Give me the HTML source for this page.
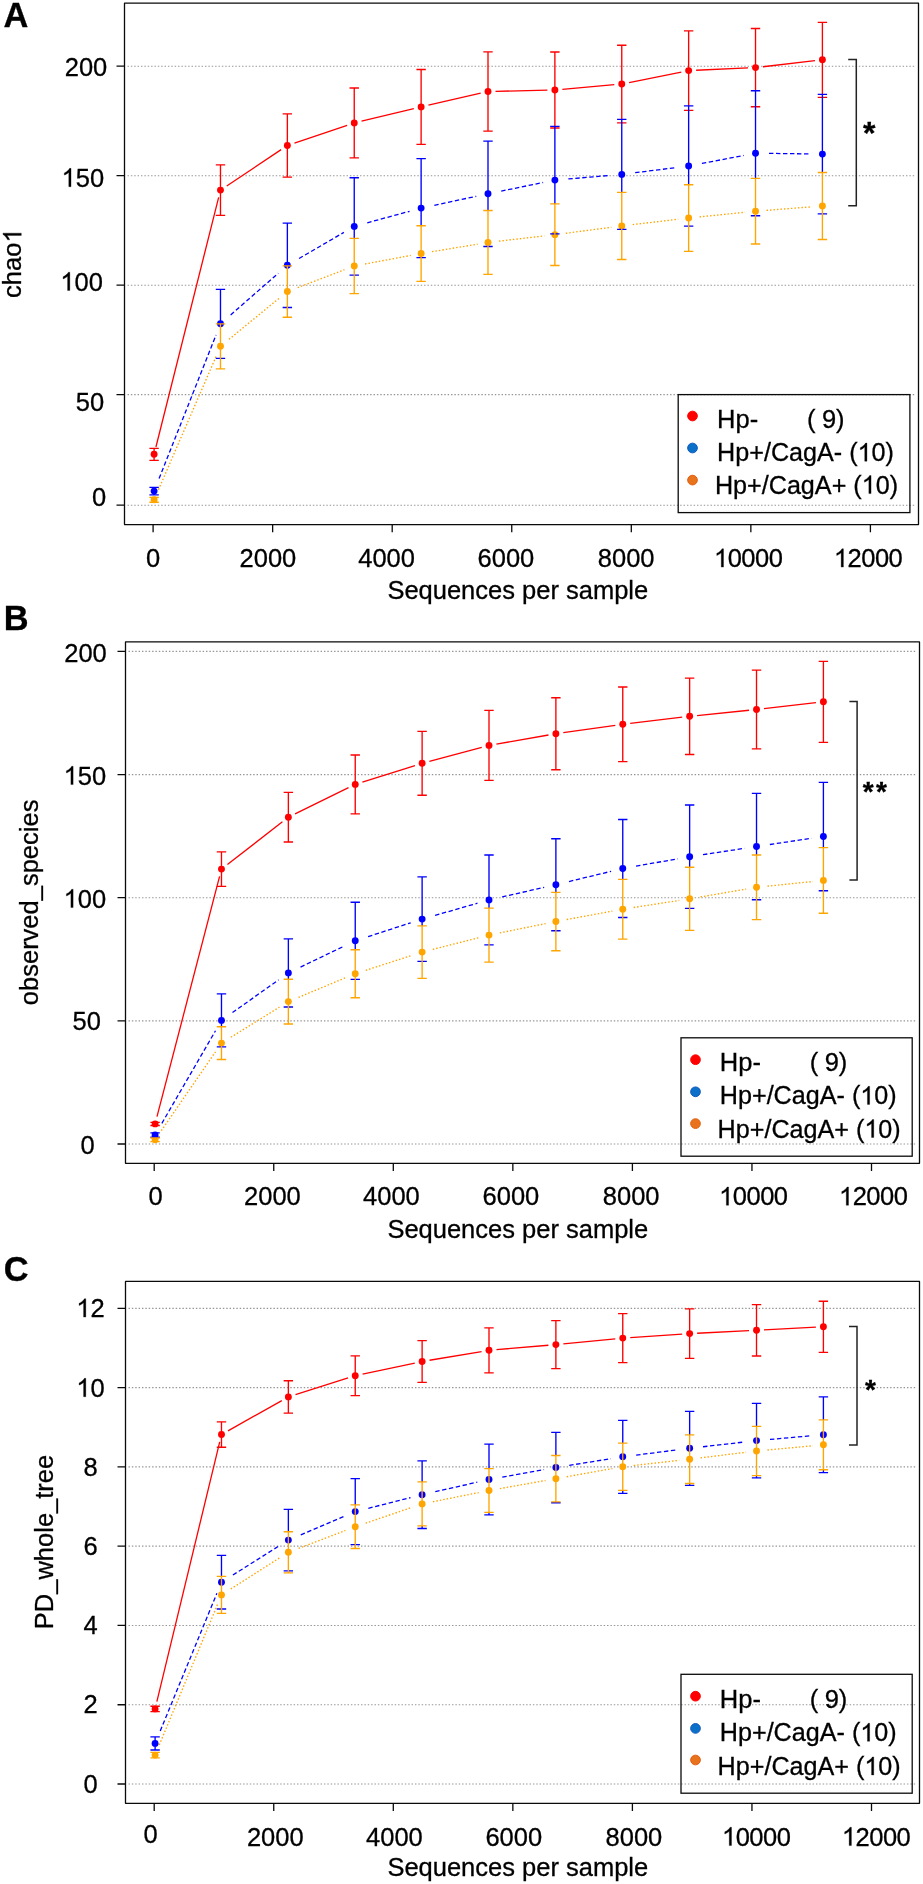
<!DOCTYPE html>
<html lang="en"><head><meta charset="utf-8"><title>Rarefaction curves</title>
<style>
html,body{margin:0;padding:0;background:#fff;}
svg{display:block;will-change:transform;}
text{font-family:"Liberation Sans",sans-serif;font-size:25.5px;fill:#000;stroke:#000;stroke-width:0.3px;}
</style></head><body>
<svg width="923" height="1884" viewBox="0 0 923 1884">
<rect width="923" height="1884" fill="#fff"/>
<path d="M127.5 66.2H915.9" stroke="#969696" stroke-width="1.15" stroke-dasharray="1.45 1.92" fill="none"/>
<path d="M127.5 175.7H915.9" stroke="#969696" stroke-width="1.15" stroke-dasharray="1.45 1.92" fill="none"/>
<path d="M127.5 285.2H915.9" stroke="#969696" stroke-width="1.15" stroke-dasharray="1.45 1.92" fill="none"/>
<path d="M127.5 394.6H915.9" stroke="#969696" stroke-width="1.15" stroke-dasharray="1.45 1.92" fill="none"/>
<path d="M127.5 505.2H915.9" stroke="#969696" stroke-width="1.15" stroke-dasharray="1.45 1.92" fill="none"/>
<path d="M155.93 447.03L218.65 197.37 M226.72 185.94L281.12 149.66 M294.47 143.1L347.13 125.3 M361.53 121.15L413.83 108.65 M428.43 105.22L480.69 93.18 M495.5 91.33L547.38 90.17 M562.35 89.33L614.29 84.67 M629.11 82.53L681.29 72.07 M696.13 70.26L748.03 67.94 M762.97 66.73L814.95 60.67" stroke="#ff0000" stroke-width="1.3" fill="none"/>
<path d="M159.08 478.55L216.05 334.95 M230.64 314.91L278.33 273.2 M299.03 258.51L343.87 232.43 M367.26 222.84L409.55 211.27 M434.32 205.28L476.27 196.31 M501.23 191.09L543.12 182.51 M568.33 178.95L609.8 175.42 M635.15 172.72L676.73 167.5 M701.9 163.46L743.73 155.46 M769.02 153.38L810.4 153.94" stroke="#0000ff" stroke-width="1.3" fill="none" stroke-dasharray="4.4 2.6"/>
<path d="M158.47 489.7L216.31 355.94 M228.99 339.33L279.24 298.15 M297.64 287.58L344.43 269.74 M365.05 263.98L410.8 255.43 M431.97 251.7L477.64 244.12 M498.93 241.14L544.45 235.9 M565.79 233.27L611.35 227.27 M632.68 224.61L678.21 219.23 M699.58 216.89L745.07 212.26 M766.49 210.35L811.93 206.81" stroke="#ffa500" stroke-width="1.35" fill="none" stroke-dasharray="1.5 2"/>
<circle cx="154.1" cy="454.3" r="3.45" fill="#ff0000"/>
<circle cx="220.48" cy="190.1" r="3.45" fill="#ff0000"/>
<circle cx="287.36" cy="145.5" r="3.45" fill="#ff0000"/>
<circle cx="354.24" cy="122.9" r="3.45" fill="#ff0000"/>
<circle cx="421.12" cy="106.9" r="3.45" fill="#ff0000"/>
<circle cx="488" cy="91.5" r="3.45" fill="#ff0000"/>
<circle cx="554.88" cy="90" r="3.45" fill="#ff0000"/>
<circle cx="621.76" cy="84" r="3.45" fill="#ff0000"/>
<circle cx="688.64" cy="70.6" r="3.45" fill="#ff0000"/>
<circle cx="755.52" cy="67.6" r="3.45" fill="#ff0000"/>
<circle cx="822.4" cy="59.8" r="3.45" fill="#ff0000"/>
<circle cx="154.1" cy="499.8" r="3.45" fill="#ffa500"/>
<circle cx="220.48" cy="346.3" r="3.45" fill="#ffa500"/>
<circle cx="287.36" cy="291.5" r="3.45" fill="#ffa500"/>
<circle cx="354.24" cy="266" r="3.45" fill="#ffa500"/>
<circle cx="421.12" cy="253.5" r="3.45" fill="#ffa500"/>
<circle cx="488" cy="242.4" r="3.45" fill="#ffa500"/>
<circle cx="554.88" cy="234.7" r="3.45" fill="#ffa500"/>
<circle cx="621.76" cy="225.9" r="3.45" fill="#ffa500"/>
<circle cx="688.64" cy="218" r="3.45" fill="#ffa500"/>
<circle cx="755.52" cy="211.2" r="3.45" fill="#ffa500"/>
<circle cx="822.4" cy="206" r="3.45" fill="#ffa500"/>
<circle cx="154.1" cy="491.1" r="3.45" fill="#0000ff"/>
<circle cx="220.48" cy="323.8" r="3.45" fill="#0000ff"/>
<circle cx="287.36" cy="265.3" r="3.45" fill="#0000ff"/>
<circle cx="354.24" cy="226.4" r="3.45" fill="#0000ff"/>
<circle cx="421.12" cy="208.1" r="3.45" fill="#0000ff"/>
<circle cx="488" cy="193.8" r="3.45" fill="#0000ff"/>
<circle cx="554.88" cy="180.1" r="3.45" fill="#0000ff"/>
<circle cx="621.76" cy="174.4" r="3.45" fill="#0000ff"/>
<circle cx="688.64" cy="166" r="3.45" fill="#0000ff"/>
<circle cx="755.52" cy="153.2" r="3.45" fill="#0000ff"/>
<circle cx="822.4" cy="154.1" r="3.45" fill="#0000ff"/>
<path d="M154.1 448.3V460.3 M149.4 448.3H158.8 M149.4 460.3H158.8 M220.48 164.8V215.4 M215.78 164.8H225.18 M215.78 215.4H225.18 M287.36 113.9V177.1 M282.66 113.9H292.06 M282.66 177.1H292.06 M354.24 88V157.8 M349.54 88H358.94 M349.54 157.8H358.94 M421.12 69.5V144.3 M416.42 69.5H425.82 M416.42 144.3H425.82 M488 51.9V131.1 M483.3 51.9H492.7 M483.3 131.1H492.7 M554.88 52V126.3 M550.18 52H559.58 M550.18 128H559.58 M621.76 45.2V119.4 M617.06 45.2H626.46 M617.06 122.8H626.46 M688.64 30.8V105.9 M683.94 30.8H693.34 M683.94 110.4H693.34 M755.52 28.5V90.7 M750.82 28.5H760.22 M750.82 106.7H760.22 M822.4 22.3V94.4 M817.7 22.3H827.1 M817.7 97.3H827.1" stroke="#ff0000" stroke-width="1.35" fill="none"/>
<path d="M154.1 487.3V494.9 M149.4 487.3H158.8 M149.4 494.9H158.8 M220.48 289.3V323.8 M215.78 289.3H225.18 M215.78 358.3H225.18 M287.36 223.1V265.8 M282.66 223.1H292.06 M282.66 307.5H292.06 M354.24 177.7V238.4 M349.54 177.7H358.94 M349.54 275.1H358.94 M421.12 158.6V225.7 M416.42 158.6H425.82 M416.42 257.6H425.82 M488 141.1V210.5 M483.3 141.1H492.7 M483.3 246.5H492.7 M554.88 126.3V203.9 M550.18 126.3H559.58 M550.18 233.9H559.58 M621.76 119.4V192.3 M617.06 119.4H626.46 M617.06 229.4H626.46 M688.64 105.9V184.7 M683.94 105.9H693.34 M683.94 226.1H693.34 M755.52 90.7V178.4 M750.82 90.7H760.22 M750.82 215.7H760.22 M822.4 94.4V172.5 M817.7 94.4H827.1 M817.7 213.8H827.1" stroke="#0000ff" stroke-width="1.35" fill="none"/>
<path d="M154.1 497.4V502.2 M149.4 497.4H158.8 M149.4 502.2H158.8 M220.48 323.8V368.8 M215.78 323.8H225.18 M215.78 368.8H225.18 M287.36 265.8V317.2 M282.66 265.8H292.06 M282.66 317.2H292.06 M354.24 238.4V293.6 M349.54 238.4H358.94 M349.54 293.6H358.94 M421.12 225.7V281.3 M416.42 225.7H425.82 M416.42 281.3H425.82 M488 210.5V274.3 M483.3 210.5H492.7 M483.3 274.3H492.7 M554.88 203.9V265.5 M550.18 203.9H559.58 M550.18 265.5H559.58 M621.76 192.3V259.5 M617.06 192.3H626.46 M617.06 259.5H626.46 M688.64 184.7V251.3 M683.94 184.7H693.34 M683.94 251.3H693.34 M755.52 178.4V244 M750.82 178.4H760.22 M750.82 244H760.22 M822.4 172.5V239.5 M817.7 172.5H827.1 M817.7 239.5H827.1" stroke="#ffa500" stroke-width="1.35" fill="none"/>
<rect x="124.5" y="3.15" width="794" height="521.4" fill="none" stroke="#0a0a0a" stroke-width="1.3" stroke-linejoin="round"/>
<path d="M116.5 66.2H124.5 M116.5 175.7H124.5 M116.5 285.2H124.5 M116.5 394.6H124.5 M116.5 505.2H124.5 M153.1 524.55V532.35 M272.65 524.55V532.35 M392.2 524.55V532.35 M511.75 524.55V532.35 M631.3 524.55V532.35 M750.85 524.55V532.35 M870.4 524.55V532.35" stroke="#0a0a0a" stroke-width="1.3" fill="none"/>
<text x="86" y="75.6" text-anchor="middle">200</text>
<g transform="translate(83.4 186.7)">
<text x="-7.69 6.49" y="0">50</text>
<path transform="translate(-21.87 0) scale(0.012451 -0.012451)" d="M763,0L583,0L583,1147Q518,1085 412.5,1023Q307,961 223,930L223,1104Q374,1175 487,1276Q600,1377 647,1472L763,1472Z" fill="#000" stroke="#000" stroke-width="24.09"/>
</g>
<g transform="translate(82.2 290.5)">
<text x="-7.69 6.49" y="0">00</text>
<path transform="translate(-21.87 0) scale(0.012451 -0.012451)" d="M763,0L583,0L583,1147Q518,1085 412.5,1023Q307,961 223,930L223,1104Q374,1175 487,1276Q600,1377 647,1472L763,1472Z" fill="#000" stroke="#000" stroke-width="24.09"/>
</g>
<text x="90" y="411.3" text-anchor="middle">50</text>
<text x="99" y="506.2" text-anchor="middle">0</text>
<text x="153.1" y="567.1" text-anchor="middle">0</text>
<text x="267.9" y="567.1" text-anchor="middle">2000</text>
<text x="386.6" y="567.1" text-anchor="middle">4000</text>
<text x="505.9" y="567.1" text-anchor="middle">6000</text>
<text x="626.2" y="567.1" text-anchor="middle">8000</text>
<g transform="translate(749.05 567.1)">
<text x="-21.37 -7.69 5.99 19.67" y="0">0000</text>
<path transform="translate(-35.05 0) scale(0.012451 -0.012451)" d="M763,0L583,0L583,1147Q518,1085 412.5,1023Q307,961 223,930L223,1104Q374,1175 487,1276Q600,1377 647,1472L763,1472Z" fill="#000" stroke="#000" stroke-width="24.09"/>
</g>
<g transform="translate(868.95 567.1)">
<text x="-21.37 -7.69 5.99 19.67" y="0">2000</text>
<path transform="translate(-35.05 0) scale(0.012451 -0.012451)" d="M763,0L583,0L583,1147Q518,1085 412.5,1023Q307,961 223,930L223,1104Q374,1175 487,1276Q600,1377 647,1472L763,1472Z" fill="#000" stroke="#000" stroke-width="24.09"/>
</g>
<text x="517.8" y="599" text-anchor="middle">Sequences per sample</text>
<g transform="translate(21.3 263.2) rotate(-90)">
<text x="-34.74 -21.99 -7.81 6.38" y="0">chao</text>
<path transform="translate(20.56 0) scale(0.012451 -0.012451)" d="M763,0L583,0L583,1147Q518,1085 412.5,1023Q307,961 223,930L223,1104Q374,1175 487,1276Q600,1377 647,1472L763,1472Z" fill="#000" stroke="#000" stroke-width="24.09"/>
</g>
<text x="3.5" y="26.8" style="font-size:34.4px;font-weight:bold">A</text>
<rect x="678.2" y="394.6" width="231.7" height="118" fill="none" stroke="#0a0a0a" stroke-width="1.3"/>
<circle cx="692.5" cy="416" r="4.85" fill="#ff0000" stroke="#ff0505" stroke-width="1"/>
<circle cx="692.5" cy="448" r="4.85" fill="#0b70c8" stroke="#1259c0" stroke-width="1"/>
<circle cx="692.5" cy="480.1" r="4.85" fill="#e8731c" stroke="#e25f10" stroke-width="1"/>
<g style="font-size:25.15px">
<text x="717.1" y="427.5">Hp-</text>
<text x="806.9" y="427.5" style="letter-spacing:-0.2px">( 9)</text>
<g transform="translate(717.1 461.2)">
<text x="0 18.16 32.15 46.84 53.82 71.99 85.97 99.96 116.74 132.1 154.46 168.45" y="0" style="font-size:25.15px">Hp+/CagA-(0)</text>
<path transform="translate(140.47 0) scale(0.012280 -0.012280)" d="M763,0L583,0L583,1147Q518,1085 412.5,1023Q307,961 223,930L223,1104Q374,1175 487,1276Q600,1377 647,1472L763,1472Z" fill="#000" stroke="#000" stroke-width="24.43"/>
</g>
<g transform="translate(714.9 493.6)">
<text x="0 18.16 32.15 46.84 53.82 71.99 85.97 99.96 116.74 138.41 160.77 174.76" y="0" style="font-size:25.15px">Hp+/CagA+(0)</text>
<path transform="translate(146.79 0) scale(0.012280 -0.012280)" d="M763,0L583,0L583,1147Q518,1085 412.5,1023Q307,961 223,930L223,1104Q374,1175 487,1276Q600,1377 647,1472L763,1472Z" fill="#000" stroke="#000" stroke-width="24.43"/>
</g>
</g>
<path d="M848.2 59.4H856.3V205.8H848.2" stroke="#232323" stroke-width="1.5" fill="none"/>
<text x="869.15" y="144.15" style="font-size:32px;font-weight:bold" text-anchor="middle">*</text>
<path d="M128.5 651.4H916.9" stroke="#969696" stroke-width="1.15" stroke-dasharray="1.45 1.92" fill="none"/>
<path d="M128.5 774.55H916.9" stroke="#969696" stroke-width="1.15" stroke-dasharray="1.45 1.92" fill="none"/>
<path d="M128.5 897.7H916.9" stroke="#969696" stroke-width="1.15" stroke-dasharray="1.45 1.92" fill="none"/>
<path d="M128.5 1020.85H916.9" stroke="#969696" stroke-width="1.15" stroke-dasharray="1.45 1.92" fill="none"/>
<path d="M128.5 1144H916.9" stroke="#969696" stroke-width="1.15" stroke-dasharray="1.45 1.92" fill="none"/>
<path d="M156.99 1116.64L219.59 876.36 M227.41 864.5L282.43 821.8 M295.09 813.9L348.51 787.7 M362.39 782.14L414.97 765.56 M429.36 761.36L481.76 747.34 M496.39 744.11L548.49 734.99 M563.31 732.66L615.33 725.34 M630.21 723.41L682.19 717.19 M697.1 715.54L749.06 710.26 M763.97 708.64L815.95 702.66" stroke="#ff0000" stroke-width="1.3" fill="none"/>
<path d="M161.87 1123.32L215.47 1030.78 M232.49 1012.58L278.58 979.85 M300.53 967.06L344.42 945.99 M368.08 936.63L410.71 922.8 M435.1 915.37L477.47 903.21 M502.16 896.91L544.18 887.36 M569 881.52L611.1 871.33 M636.05 866.15L677.82 858.79 M702.99 854.66L744.66 848.31 M769.87 844.5L811.53 838.27" stroke="#0000ff" stroke-width="1.3" fill="none" stroke-dasharray="4.4 2.6"/>
<path d="M161.33 1130.73L215.54 1051.76 M230.83 1037.3L279.44 1007.14 M298.51 997.36L345.55 977.74 M365.71 970.32L412.13 955.33 M432.78 949.39L478.82 937.69 M499.78 932.91L545.59 923.59 M566.7 919.51L612.43 911.1 M633.63 907.51L679.26 900.41 M700.48 896.94L746.17 889.08 M767.46 886.17L812.96 881.48" stroke="#ffa500" stroke-width="1.35" fill="none" stroke-dasharray="1.5 2"/>
<circle cx="155.1" cy="1123.9" r="3.45" fill="#ff0000"/>
<circle cx="221.48" cy="869.1" r="3.45" fill="#ff0000"/>
<circle cx="288.36" cy="817.2" r="3.45" fill="#ff0000"/>
<circle cx="355.24" cy="784.4" r="3.45" fill="#ff0000"/>
<circle cx="422.12" cy="763.3" r="3.45" fill="#ff0000"/>
<circle cx="489" cy="745.4" r="3.45" fill="#ff0000"/>
<circle cx="555.88" cy="733.7" r="3.45" fill="#ff0000"/>
<circle cx="622.76" cy="724.3" r="3.45" fill="#ff0000"/>
<circle cx="689.64" cy="716.3" r="3.45" fill="#ff0000"/>
<circle cx="756.52" cy="709.5" r="3.45" fill="#ff0000"/>
<circle cx="823.4" cy="701.8" r="3.45" fill="#ff0000"/>
<circle cx="155.1" cy="1139.8" r="3.45" fill="#ffa500"/>
<circle cx="221.48" cy="1043.1" r="3.45" fill="#ffa500"/>
<circle cx="288.36" cy="1001.6" r="3.45" fill="#ffa500"/>
<circle cx="355.24" cy="973.7" r="3.45" fill="#ffa500"/>
<circle cx="422.12" cy="952.1" r="3.45" fill="#ffa500"/>
<circle cx="489" cy="935.1" r="3.45" fill="#ffa500"/>
<circle cx="555.88" cy="921.5" r="3.45" fill="#ffa500"/>
<circle cx="622.76" cy="909.2" r="3.45" fill="#ffa500"/>
<circle cx="689.64" cy="898.8" r="3.45" fill="#ffa500"/>
<circle cx="756.52" cy="887.3" r="3.45" fill="#ffa500"/>
<circle cx="823.4" cy="880.4" r="3.45" fill="#ffa500"/>
<circle cx="155.1" cy="1135" r="3.45" fill="#0000ff"/>
<circle cx="221.48" cy="1020.4" r="3.45" fill="#0000ff"/>
<circle cx="288.36" cy="972.9" r="3.45" fill="#0000ff"/>
<circle cx="355.24" cy="940.8" r="3.45" fill="#0000ff"/>
<circle cx="422.12" cy="919.1" r="3.45" fill="#0000ff"/>
<circle cx="489" cy="899.9" r="3.45" fill="#0000ff"/>
<circle cx="555.88" cy="884.7" r="3.45" fill="#0000ff"/>
<circle cx="622.76" cy="868.5" r="3.45" fill="#0000ff"/>
<circle cx="689.64" cy="856.7" r="3.45" fill="#0000ff"/>
<circle cx="756.52" cy="846.5" r="3.45" fill="#0000ff"/>
<circle cx="823.4" cy="836.5" r="3.45" fill="#0000ff"/>
<path d="M155.1 1122.3V1125.5 M150.4 1122.3H159.8 M150.4 1125.5H159.8 M221.48 851.9V886.3 M216.78 851.9H226.18 M216.78 886.3H226.18 M288.36 792.4V842 M283.66 792.4H293.06 M283.66 842H293.06 M355.24 755V813.8 M350.54 755H359.94 M350.54 813.8H359.94 M422.12 731.4V795.2 M417.42 731.4H426.82 M417.42 795.2H426.82 M489 710.4V780.4 M484.3 710.4H493.7 M484.3 780.4H493.7 M555.88 697.7V769.7 M551.18 697.7H560.58 M551.18 769.7H560.58 M622.76 687V761.6 M618.06 687H627.46 M618.06 761.6H627.46 M689.64 678.1V754.5 M684.94 678.1H694.34 M684.94 754.5H694.34 M756.52 670.1V748.9 M751.82 670.1H761.22 M751.82 748.9H761.22 M823.4 661.3V742.3 M818.7 661.3H828.1 M818.7 742.3H828.1" stroke="#ff0000" stroke-width="1.35" fill="none"/>
<path d="M155.1 1132.8V1137.2 M150.4 1132.8H159.8 M150.4 1137.2H159.8 M221.48 993.9V1026.7 M216.78 993.9H226.18 M216.78 1046.9H226.18 M288.36 938.8V979.2 M283.66 938.8H293.06 M283.66 1007H293.06 M355.24 902.2V949.7 M350.54 902.2H359.94 M350.54 979.4H359.94 M422.12 876.9V925.9 M417.42 876.9H426.82 M417.42 961.3H426.82 M489 855V908.1 M484.3 855H493.7 M484.3 944.8H493.7 M555.88 838.7V892.3 M551.18 838.7H560.58 M551.18 930.7H560.58 M622.76 819.5V879.3 M618.06 819.5H627.46 M618.06 917.5H627.46 M689.64 805V867.2 M684.94 805H694.34 M684.94 908.4H694.34 M756.52 793.3V855 M751.82 793.3H761.22 M751.82 899.7H761.22 M823.4 782.3V847.6 M818.7 782.3H828.1 M818.7 890.7H828.1" stroke="#0000ff" stroke-width="1.35" fill="none"/>
<path d="M155.1 1138V1141.6 M150.4 1138H159.8 M150.4 1141.6H159.8 M221.48 1026.7V1059.5 M216.78 1026.7H226.18 M216.78 1059.5H226.18 M288.36 979.2V1024 M283.66 979.2H293.06 M283.66 1024H293.06 M355.24 949.7V997.7 M350.54 949.7H359.94 M350.54 997.7H359.94 M422.12 925.9V978.3 M417.42 925.9H426.82 M417.42 978.3H426.82 M489 908.1V962.1 M484.3 908.1H493.7 M484.3 962.1H493.7 M555.88 892.3V950.7 M551.18 892.3H560.58 M551.18 950.7H560.58 M622.76 879.3V939.1 M618.06 879.3H627.46 M618.06 939.1H627.46 M689.64 867.2V930.4 M684.94 867.2H694.34 M684.94 930.4H694.34 M756.52 855V919.6 M751.82 855H761.22 M751.82 919.6H761.22 M823.4 847.6V913.2 M818.7 847.6H828.1 M818.7 913.2H828.1" stroke="#ffa500" stroke-width="1.35" fill="none"/>
<rect x="125.5" y="641.95" width="794" height="521.35" fill="none" stroke="#0a0a0a" stroke-width="1.3" stroke-linejoin="round"/>
<path d="M117.5 651.4H125.5 M117.5 774.55H125.5 M117.5 897.7H125.5 M117.5 1020.85H125.5 M117.5 1144H125.5 M154.2 1163.3V1171.1 M273.75 1163.3V1171.1 M393.3 1163.3V1171.1 M512.85 1163.3V1171.1 M632.4 1163.3V1171.1 M751.95 1163.3V1171.1 M871.5 1163.3V1171.1" stroke="#0a0a0a" stroke-width="1.3" fill="none"/>
<text x="85.5" y="662" text-anchor="middle">200</text>
<g transform="translate(85.5 784.6)">
<text x="-7.69 6.49" y="0">50</text>
<path transform="translate(-21.87 0) scale(0.012451 -0.012451)" d="M763,0L583,0L583,1147Q518,1085 412.5,1023Q307,961 223,930L223,1104Q374,1175 487,1276Q600,1377 647,1472L763,1472Z" fill="#000" stroke="#000" stroke-width="24.09"/>
</g>
<g transform="translate(85.5 907.6)">
<text x="-7.69 6.49" y="0">00</text>
<path transform="translate(-21.87 0) scale(0.012451 -0.012451)" d="M763,0L583,0L583,1147Q518,1085 412.5,1023Q307,961 223,930L223,1104Q374,1175 487,1276Q600,1377 647,1472L763,1472Z" fill="#000" stroke="#000" stroke-width="24.09"/>
</g>
<text x="86.7" y="1030.2" text-anchor="middle">50</text>
<text x="87.5" y="1153.5" text-anchor="middle">0</text>
<text x="155.7" y="1205.3" text-anchor="middle">0</text>
<text x="272.4" y="1205.3" text-anchor="middle">2000</text>
<text x="391.4" y="1205.3" text-anchor="middle">4000</text>
<text x="510.9" y="1205.3" text-anchor="middle">6000</text>
<text x="631.2" y="1205.3" text-anchor="middle">8000</text>
<g transform="translate(754.15 1205.3)">
<text x="-21.37 -7.69 5.99 19.67" y="0">0000</text>
<path transform="translate(-35.05 0) scale(0.012451 -0.012451)" d="M763,0L583,0L583,1147Q518,1085 412.5,1023Q307,961 223,930L223,1104Q374,1175 487,1276Q600,1377 647,1472L763,1472Z" fill="#000" stroke="#000" stroke-width="24.09"/>
</g>
<g transform="translate(874.05 1205.3)">
<text x="-21.37 -7.69 5.99 19.67" y="0">2000</text>
<path transform="translate(-35.05 0) scale(0.012451 -0.012451)" d="M763,0L583,0L583,1147Q518,1085 412.5,1023Q307,961 223,930L223,1104Q374,1175 487,1276Q600,1377 647,1472L763,1472Z" fill="#000" stroke="#000" stroke-width="24.09"/>
</g>
<text x="517.8" y="1237.5" text-anchor="middle">Sequences per sample</text>
<text transform="translate(38.3 902.4) rotate(-90)" text-anchor="middle">observed_species</text>
<text x="3.7" y="630.3" style="font-size:34.4px;font-weight:bold">B</text>
<rect x="681" y="1037.8" width="231.2" height="118.4" fill="none" stroke="#0a0a0a" stroke-width="1.3"/>
<circle cx="695.5" cy="1059.7" r="4.85" fill="#ff0000" stroke="#ff0505" stroke-width="1"/>
<circle cx="695.5" cy="1091.8" r="4.85" fill="#0b70c8" stroke="#1259c0" stroke-width="1"/>
<circle cx="695.5" cy="1123.6" r="4.85" fill="#e8731c" stroke="#e25f10" stroke-width="1"/>
<g style="font-size:25.15px">
<text x="719.8" y="1071.3">Hp-</text>
<text x="809.7" y="1071.3" style="letter-spacing:-0.2px">( 9)</text>
<g transform="translate(719.8 1104.4)">
<text x="0 18.16 32.15 46.84 53.82 71.99 85.97 99.96 116.74 132.1 154.46 168.45" y="0" style="font-size:25.15px">Hp+/CagA-(0)</text>
<path transform="translate(140.47 0) scale(0.012280 -0.012280)" d="M763,0L583,0L583,1147Q518,1085 412.5,1023Q307,961 223,930L223,1104Q374,1175 487,1276Q600,1377 647,1472L763,1472Z" fill="#000" stroke="#000" stroke-width="24.43"/>
</g>
<g transform="translate(717.6 1137.5)">
<text x="0 18.16 32.15 46.84 53.82 71.99 85.97 99.96 116.74 138.41 160.77 174.76" y="0" style="font-size:25.15px">Hp+/CagA+(0)</text>
<path transform="translate(146.79 0) scale(0.012280 -0.012280)" d="M763,0L583,0L583,1147Q518,1085 412.5,1023Q307,961 223,930L223,1104Q374,1175 487,1276Q600,1377 647,1472L763,1472Z" fill="#000" stroke="#000" stroke-width="24.43"/>
</g>
</g>
<path d="M849.4 701.5H857.1V879.9H849.4" stroke="#232323" stroke-width="1.5" fill="none"/>
<text x="868.25" y="800.75" style="font-size:28px;font-weight:bold" text-anchor="middle">*</text>
<text x="881.55" y="800.75" style="font-size:28px;font-weight:bold" text-anchor="middle">*</text>
<path d="M128.5 1308.35H916.9" stroke="#969696" stroke-width="1.15" stroke-dasharray="1.45 1.92" fill="none"/>
<path d="M128.5 1387.63H916.9" stroke="#969696" stroke-width="1.15" stroke-dasharray="1.45 1.92" fill="none"/>
<path d="M128.5 1466.9H916.9" stroke="#969696" stroke-width="1.15" stroke-dasharray="1.45 1.92" fill="none"/>
<path d="M128.5 1546.18H916.9" stroke="#969696" stroke-width="1.15" stroke-dasharray="1.45 1.92" fill="none"/>
<path d="M128.5 1625.45H916.9" stroke="#969696" stroke-width="1.15" stroke-dasharray="1.45 1.92" fill="none"/>
<path d="M128.5 1704.73H916.9" stroke="#969696" stroke-width="1.15" stroke-dasharray="1.45 1.92" fill="none"/>
<path d="M128.5 1784H916.9" stroke="#969696" stroke-width="1.15" stroke-dasharray="1.45 1.92" fill="none"/>
<path d="M156.86 1701.61L219.72 1441.79 M228.02 1430.82L281.82 1400.58 M295.51 1394.63L348.09 1377.97 M362.58 1374.14L414.78 1363.06 M429.52 1360.26L481.6 1351.54 M496.47 1349.66L548.41 1345.24 M563.34 1343.87L615.3 1338.83 M630.24 1337.6L682.16 1334.1 M697.13 1333.23L749.03 1330.67 M764.01 1329.91L815.91 1327.19" stroke="#ff0000" stroke-width="1.3" fill="none"/>
<path d="M160.24 1730.92L216.91 1593.3 M232.9 1575.01L278.2 1546.49 M300.78 1534.81L344.2 1516.3 M368.33 1508.29L410.49 1497.64 M435.28 1491.71L477.3 1482.16 M502.29 1477.12L544.07 1469.62 M569.21 1465.37L610.91 1458.7 M636.15 1455.1L677.74 1449.81 M703.05 1446.76L744.6 1441.97 M769.97 1439.41L811.45 1435.75" stroke="#0000ff" stroke-width="1.3" fill="none" stroke-dasharray="4.4 2.6"/>
<path d="M159.31 1744.94L217.46 1604.6 M230.76 1588.99L279.5 1557.94 M298.63 1548.37L345.43 1530.45 M365.65 1523.15L412.18 1507.29 M432.91 1501.74L478.7 1492.56 M499.83 1488.59L545.54 1480.52 M566.71 1476.76L612.43 1468.55 M633.69 1465.47L679.21 1460.37 M700.56 1457.86L746.1 1452.28 M767.47 1449.98L812.94 1445.77" stroke="#ffa500" stroke-width="1.35" fill="none" stroke-dasharray="1.5 2"/>
<circle cx="155.1" cy="1708.9" r="3.45" fill="#ff0000"/>
<circle cx="221.48" cy="1434.5" r="3.45" fill="#ff0000"/>
<circle cx="288.36" cy="1396.9" r="3.45" fill="#ff0000"/>
<circle cx="355.24" cy="1375.7" r="3.45" fill="#ff0000"/>
<circle cx="422.12" cy="1361.5" r="3.45" fill="#ff0000"/>
<circle cx="489" cy="1350.3" r="3.45" fill="#ff0000"/>
<circle cx="555.88" cy="1344.6" r="3.45" fill="#ff0000"/>
<circle cx="622.76" cy="1338.1" r="3.45" fill="#ff0000"/>
<circle cx="689.64" cy="1333.6" r="3.45" fill="#ff0000"/>
<circle cx="756.52" cy="1330.3" r="3.45" fill="#ff0000"/>
<circle cx="823.4" cy="1326.8" r="3.45" fill="#ff0000"/>
<circle cx="155.1" cy="1755.1" r="3.45" fill="#ffa500"/>
<circle cx="221.48" cy="1594.9" r="3.45" fill="#ffa500"/>
<circle cx="288.36" cy="1552.3" r="3.45" fill="#ffa500"/>
<circle cx="355.24" cy="1526.7" r="3.45" fill="#ffa500"/>
<circle cx="422.12" cy="1503.9" r="3.45" fill="#ffa500"/>
<circle cx="489" cy="1490.5" r="3.45" fill="#ffa500"/>
<circle cx="555.88" cy="1478.7" r="3.45" fill="#ffa500"/>
<circle cx="622.76" cy="1466.7" r="3.45" fill="#ffa500"/>
<circle cx="689.64" cy="1459.2" r="3.45" fill="#ffa500"/>
<circle cx="756.52" cy="1451" r="3.45" fill="#ffa500"/>
<circle cx="823.4" cy="1444.8" r="3.45" fill="#ffa500"/>
<circle cx="155.1" cy="1743.4" r="3.45" fill="#0000ff"/>
<circle cx="221.48" cy="1582.2" r="3.45" fill="#0000ff"/>
<circle cx="288.36" cy="1540.1" r="3.45" fill="#0000ff"/>
<circle cx="355.24" cy="1511.6" r="3.45" fill="#0000ff"/>
<circle cx="422.12" cy="1494.7" r="3.45" fill="#0000ff"/>
<circle cx="489" cy="1479.5" r="3.45" fill="#0000ff"/>
<circle cx="555.88" cy="1467.5" r="3.45" fill="#0000ff"/>
<circle cx="622.76" cy="1456.8" r="3.45" fill="#0000ff"/>
<circle cx="689.64" cy="1448.3" r="3.45" fill="#0000ff"/>
<circle cx="756.52" cy="1440.6" r="3.45" fill="#0000ff"/>
<circle cx="823.4" cy="1434.7" r="3.45" fill="#0000ff"/>
<path d="M155.1 1706.2V1711.6 M150.4 1706.2H159.8 M150.4 1711.6H159.8 M221.48 1421.8V1447.2 M216.78 1421.8H226.18 M216.78 1447.2H226.18 M288.36 1380.7V1413.1 M283.66 1380.7H293.06 M283.66 1413.1H293.06 M355.24 1355.8V1395.6 M350.54 1355.8H359.94 M350.54 1395.6H359.94 M422.12 1340.6V1382.4 M417.42 1340.6H426.82 M417.42 1382.4H426.82 M489 1327.8V1372.8 M484.3 1327.8H493.7 M484.3 1372.8H493.7 M555.88 1320.6V1368.6 M551.18 1320.6H560.58 M551.18 1368.6H560.58 M622.76 1313.6V1362.6 M618.06 1313.6H627.46 M618.06 1362.6H627.46 M689.64 1308.8V1358.4 M684.94 1308.8H694.34 M684.94 1358.4H694.34 M756.52 1304.6V1356 M751.82 1304.6H761.22 M751.82 1356H761.22 M823.4 1301.2V1352.4 M818.7 1301.2H828.1 M818.7 1352.4H828.1" stroke="#ff0000" stroke-width="1.35" fill="none"/>
<path d="M155.1 1736.8V1750 M150.4 1736.8H159.8 M150.4 1750H159.8 M221.48 1555.4V1576.4 M216.78 1555.4H226.18 M216.78 1609H226.18 M288.36 1509.4V1531.7 M283.66 1509.4H293.06 M283.66 1570.8H293.06 M355.24 1478.6V1504.9 M350.54 1478.6H359.94 M350.54 1544.6H359.94 M422.12 1460.9V1481.9 M422.12 1525.9V1528.5 M417.42 1460.9H426.82 M417.42 1528.5H426.82 M489 1444.1V1468.6 M489 1512.4V1514.9 M484.3 1444.1H493.7 M484.3 1514.9H493.7 M555.88 1432.3V1455.5 M555.88 1501.9V1502.7 M551.18 1432.3H560.58 M551.18 1502.7H560.58 M622.76 1420.3V1443.1 M622.76 1490.3V1493.3 M618.06 1420.3H627.46 M618.06 1493.3H627.46 M689.64 1411.3V1434.9 M689.64 1483.5V1485.3 M684.94 1411.3H694.34 M684.94 1485.3H694.34 M756.52 1403.3V1426.4 M756.52 1475.6V1477.9 M751.82 1403.3H761.22 M751.82 1477.9H761.22 M823.4 1396.8V1419.9 M823.4 1469.7V1472.6 M818.7 1396.8H828.1 M818.7 1472.6H828.1" stroke="#0000ff" stroke-width="1.35" fill="none"/>
<path d="M155.1 1752.3V1757.9 M150.4 1752.3H159.8 M150.4 1757.9H159.8 M221.48 1576.4V1613.4 M216.78 1576.4H226.18 M216.78 1613.4H226.18 M288.36 1531.7V1572.9 M283.66 1531.7H293.06 M283.66 1572.9H293.06 M355.24 1504.9V1548.5 M350.54 1504.9H359.94 M350.54 1548.5H359.94 M422.12 1481.9V1525.9 M417.42 1481.9H426.82 M417.42 1525.9H426.82 M489 1468.6V1512.4 M484.3 1468.6H493.7 M484.3 1512.4H493.7 M555.88 1455.5V1501.9 M551.18 1455.5H560.58 M551.18 1501.9H560.58 M622.76 1443.1V1490.3 M618.06 1443.1H627.46 M618.06 1490.3H627.46 M689.64 1434.9V1483.5 M684.94 1434.9H694.34 M684.94 1483.5H694.34 M756.52 1426.4V1475.6 M751.82 1426.4H761.22 M751.82 1475.6H761.22 M823.4 1419.9V1469.7 M818.7 1419.9H828.1 M818.7 1469.7H828.1" stroke="#ffa500" stroke-width="1.35" fill="none"/>
<rect x="125.5" y="1281.45" width="794" height="521.85" fill="none" stroke="#0a0a0a" stroke-width="1.3" stroke-linejoin="round"/>
<path d="M117.5 1308.35H125.5 M117.5 1387.63H125.5 M117.5 1466.9H125.5 M117.5 1546.18H125.5 M117.5 1625.45H125.5 M117.5 1704.73H125.5 M117.5 1784H125.5 M154.2 1803.3V1811.1 M273.75 1803.3V1811.1 M393.3 1803.3V1811.1 M512.85 1803.3V1811.1 M632.4 1803.3V1811.1 M751.95 1803.3V1811.1 M871.5 1803.3V1811.1" stroke="#0a0a0a" stroke-width="1.3" fill="none"/>
<g transform="translate(91.1 1317.1)">
<text x="-0.6" y="0">2</text>
<path transform="translate(-14.78 0) scale(0.012451 -0.012451)" d="M763,0L583,0L583,1147Q518,1085 412.5,1023Q307,961 223,930L223,1104Q374,1175 487,1276Q600,1377 647,1472L763,1472Z" fill="#000" stroke="#000" stroke-width="24.09"/>
</g>
<g transform="translate(91.1 1396.7)">
<text x="-0.6" y="0">0</text>
<path transform="translate(-14.78 0) scale(0.012451 -0.012451)" d="M763,0L583,0L583,1147Q518,1085 412.5,1023Q307,961 223,930L223,1104Q374,1175 487,1276Q600,1377 647,1472L763,1472Z" fill="#000" stroke="#000" stroke-width="24.09"/>
</g>
<text x="90.6" y="1475.6" text-anchor="middle">8</text>
<text x="90.6" y="1554.8" text-anchor="middle">6</text>
<text x="90.6" y="1634" text-anchor="middle">4</text>
<text x="90.6" y="1713.3" text-anchor="middle">2</text>
<text x="90.6" y="1792.7" text-anchor="middle">0</text>
<text x="150.5" y="1843.1" text-anchor="middle">0</text>
<text x="275.3" y="1845.6" text-anchor="middle">2000</text>
<text x="394.4" y="1845.6" text-anchor="middle">4000</text>
<text x="513.8" y="1845.6" text-anchor="middle">6000</text>
<text x="633.9" y="1845.6" text-anchor="middle">8000</text>
<g transform="translate(757.05 1845.6)">
<text x="-21.37 -7.69 5.99 19.67" y="0">0000</text>
<path transform="translate(-35.05 0) scale(0.012451 -0.012451)" d="M763,0L583,0L583,1147Q518,1085 412.5,1023Q307,961 223,930L223,1104Q374,1175 487,1276Q600,1377 647,1472L763,1472Z" fill="#000" stroke="#000" stroke-width="24.09"/>
</g>
<g transform="translate(876.95 1845.6)">
<text x="-21.37 -7.69 5.99 19.67" y="0">2000</text>
<path transform="translate(-35.05 0) scale(0.012451 -0.012451)" d="M763,0L583,0L583,1147Q518,1085 412.5,1023Q307,961 223,930L223,1104Q374,1175 487,1276Q600,1377 647,1472L763,1472Z" fill="#000" stroke="#000" stroke-width="24.09"/>
</g>
<text x="517.8" y="1875.8" text-anchor="middle">Sequences per sample</text>
<text transform="translate(52.5 1542) rotate(-90)" text-anchor="middle">PD_whole_tree</text>
<text x="3.7" y="1281" style="font-size:34.4px;font-weight:bold">C</text>
<rect x="681" y="1674.3" width="231.2" height="118.9" fill="none" stroke="#0a0a0a" stroke-width="1.3"/>
<circle cx="695.5" cy="1696.2" r="4.85" fill="#ff0000" stroke="#ff0505" stroke-width="1"/>
<circle cx="695.5" cy="1728.4" r="4.85" fill="#0b70c8" stroke="#1259c0" stroke-width="1"/>
<circle cx="695.5" cy="1760" r="4.85" fill="#e8731c" stroke="#e25f10" stroke-width="1"/>
<g style="font-size:25.15px">
<text x="719.8" y="1707.6">Hp-</text>
<text x="809.7" y="1707.6" style="letter-spacing:-0.2px">( 9)</text>
<g transform="translate(719.8 1741.3)">
<text x="0 18.16 32.15 46.84 53.82 71.99 85.97 99.96 116.74 132.1 154.46 168.45" y="0" style="font-size:25.15px">Hp+/CagA-(0)</text>
<path transform="translate(140.47 0) scale(0.012280 -0.012280)" d="M763,0L583,0L583,1147Q518,1085 412.5,1023Q307,961 223,930L223,1104Q374,1175 487,1276Q600,1377 647,1472L763,1472Z" fill="#000" stroke="#000" stroke-width="24.43"/>
</g>
<g transform="translate(717.6 1775)">
<text x="0 18.16 32.15 46.84 53.82 71.99 85.97 99.96 116.74 138.41 160.77 174.76" y="0" style="font-size:25.15px">Hp+/CagA+(0)</text>
<path transform="translate(146.79 0) scale(0.012280 -0.012280)" d="M763,0L583,0L583,1147Q518,1085 412.5,1023Q307,961 223,930L223,1104Q374,1175 487,1276Q600,1377 647,1472L763,1472Z" fill="#000" stroke="#000" stroke-width="24.43"/>
</g>
</g>
<path d="M849 1326.6H857V1444.9H849" stroke="#232323" stroke-width="1.5" fill="none"/>
<text x="870.55" y="1398.9" style="font-size:28px;font-weight:bold" text-anchor="middle">*</text>
</svg>
</body></html>
